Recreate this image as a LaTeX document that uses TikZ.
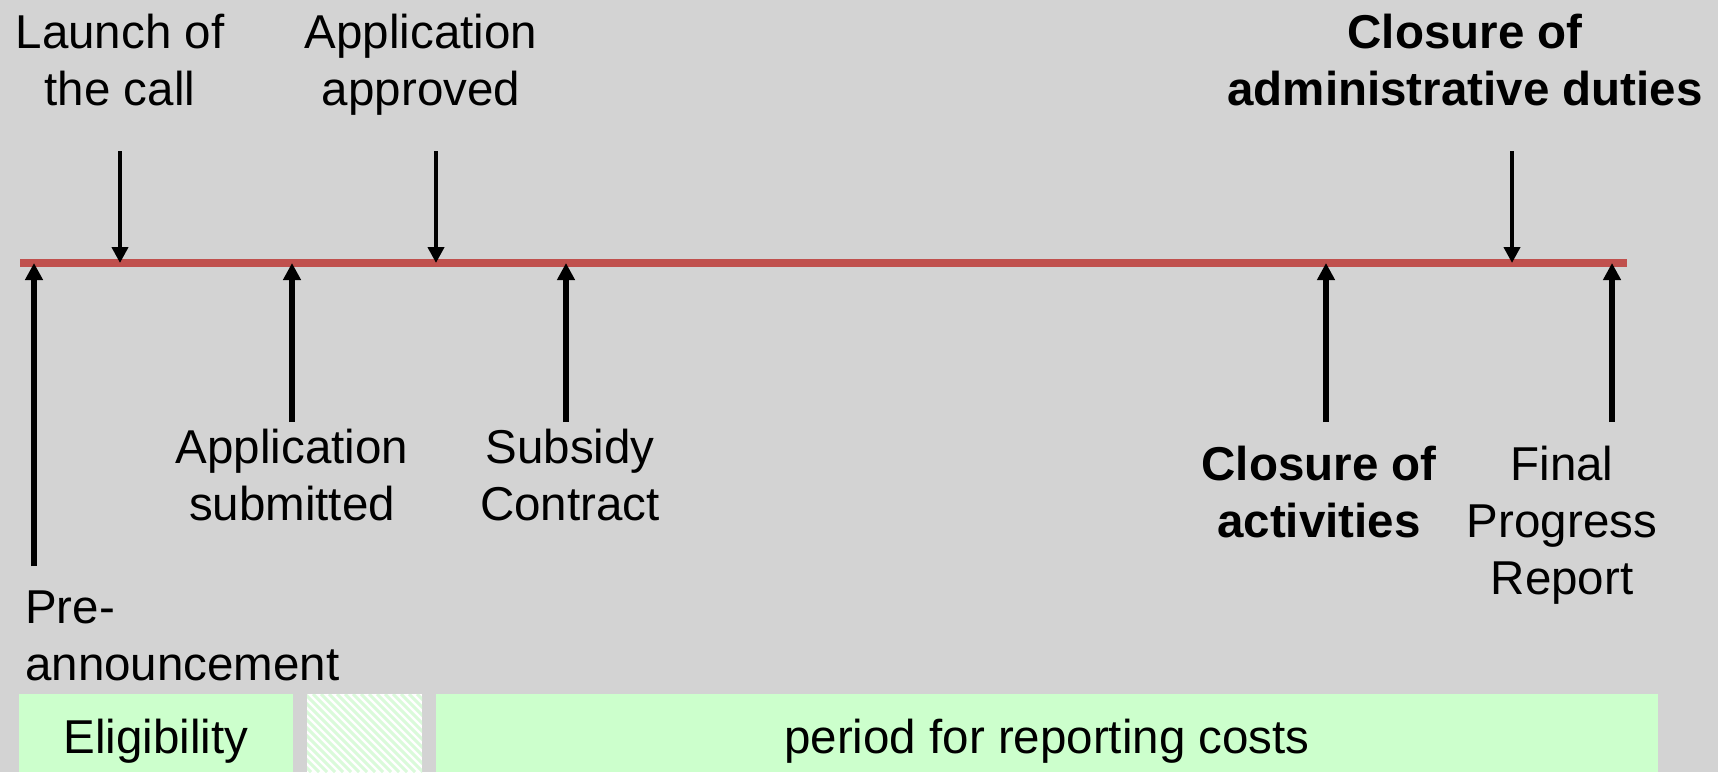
\documentclass[tikz,border=0pt]{standalone}
\usepackage{fontspec}
\setmainfont{Liberation Sans}
\usetikzlibrary{arrows.meta}
\definecolor{bggray}{RGB}{211,211,211}
\definecolor{tlred}{RGB}{192,80,77}
\definecolor{palegreen}{RGB}{204,255,204}
\definecolor{stripegreen}{RGB}{218,250,218}
\tikzset{
  lbl/.style={inner sep=0pt, align=center, anchor=base, font=\fontsize{47.5}{57}\selectfont},
  lblb/.style={lbl, font=\fontsize{47.5}{57}\selectfont\bfseries},
  downarr/.style={line width=4.3pt, -{Triangle[width=16pt,length=16pt]}},
  uparr/.style={line width=5.7pt, -{Triangle[width=17pt,length=17pt]}},
  bar/.style={fill=palegreen, draw=none},
}
\begin{document}
\begin{tikzpicture}[x=1pt,y=-1pt]
\useasboundingbox (0,0) rectangle (1718,772);
\fill[bggray] (0,0) rectangle (1718,772);

% timeline
\coordinate (tlstart) at (20,263);
\coordinate (tlend) at (1627,263);
\draw[tlred, line width=8pt] (tlstart) -- (tlend);

% points on the timeline
\coordinate (pPre) at (34,263);
\coordinate (pLaunch) at (120,263);
\coordinate (pSub) at (292,263);
\coordinate (pAppr) at (436,263);
\coordinate (pSubs) at (566,263);
\coordinate (pClAct) at (1326,263);
\coordinate (pAdmin) at (1512,263);
\coordinate (pFinal) at (1612,263);

% arrow starts
\coordinate (sPre) at (34,566);
\coordinate (sLaunch) at (120,151);
\coordinate (sSub) at (292,422);
\coordinate (sAppr) at (436,151);
\coordinate (sSubs) at (566,422);
\coordinate (sClAct) at (1326,422);
\coordinate (sAdmin) at (1512,151);
\coordinate (sFinal) at (1612,422);

\draw[downarr] (sLaunch) -- (pLaunch);
\draw[downarr] (sAppr) -- (pAppr);
\draw[downarr] (sAdmin) -- (pAdmin);
\draw[uparr] (sPre) -- (pPre);
\draw[uparr] (sSub) -- (pSub);
\draw[uparr] (sSubs) -- (pSubs);
\draw[uparr] (sClAct) -- (pClAct);
\draw[uparr] (sFinal) -- (pFinal);

% labels (anchor base = baseline of the last line)
\node[lbl] (launch) at (120,105) {Launch of\\the call};
\node[lbl] (approved) at (421,105) {Application\\approved};
\node[lblb] (admin) at (1465,105) {Closure of\\administrative duties};
\node[lbl] (submitted) at (292,520) {Application\\submitted};
\node[lbl] (subsidy) at (570,520) {Subsidy\\Contract};
\node[lblb] (closact) at (1319,537) {Closure of\\activities};
\node[lbl] (final) at (1562,594) {Final\\Progress\\Report};
\node[lbl, align=left, anchor=base west] (pre) at (25,680) {Pre-\\announcement};

% bottom bars
\path[bar] (19,694) rectangle (293,772);
\fill[white] (307,694) rectangle (422,772);
\begin{scope}
  \clip (307,694) rectangle (422,772);
  \foreach \i in {-90,-82,...,130} {
    \draw[stripegreen, line width=3pt] (307+\i,694) -- (385+\i,772);
  }
\end{scope}
\path[bar] (436,694) rectangle (1658,772);
\node[lbl] (elig) at (156,753) {Eligibility};
\node[lbl] (period) at (1047,753) {period for reporting costs};
\end{tikzpicture}
\end{document}
